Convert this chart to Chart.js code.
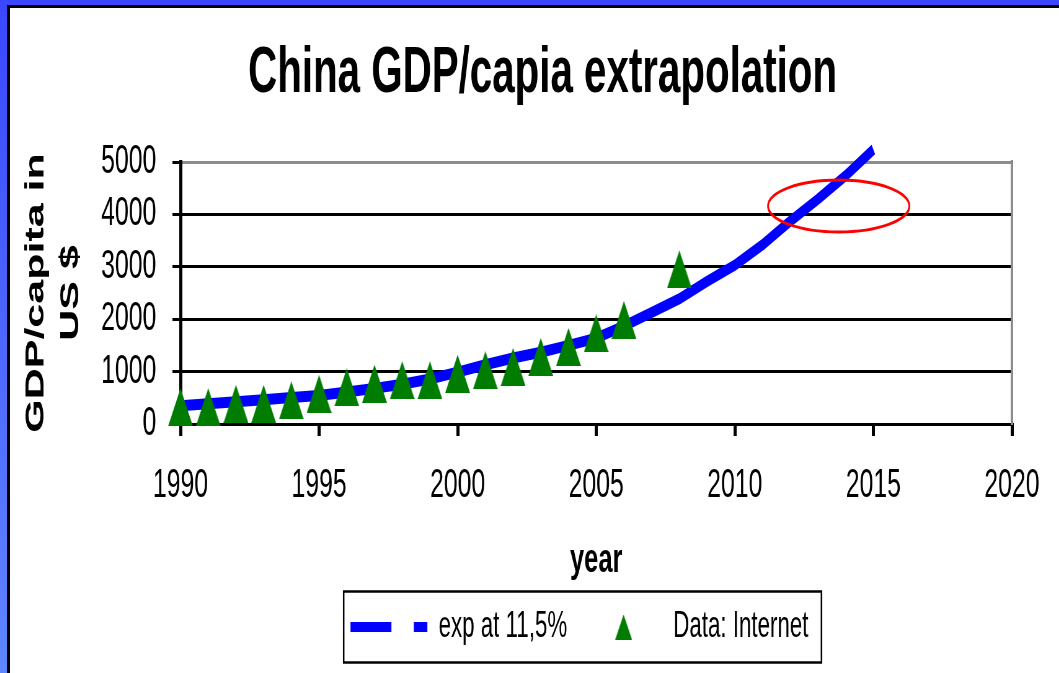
<!DOCTYPE html>
<html>
<head>
<meta charset="utf-8">
<script src="https://cdn.jsdelivr.net/npm/chart.js@4/dist/chart.umd.min.js"></script>
<style>
  html, body { margin: 0; padding: 0; }
  body {
    width: 1059px; height: 673px; overflow: hidden; position: relative;
    background: linear-gradient(to bottom, #3a47ff, #5f86ff);
  }
  #frame {
    position: absolute; left: 7px; top: 5px; width: 1120px; height: 700px;
    background: #fff; border-left: 3px solid #000; border-top: 3px solid #000;
    overflow: hidden;
  }
  /* the slide was squeezed sideways, so the chart is drawn wide and squeezed too */
  #gdp { position: absolute; left: 0; top: 0; transform: scaleX(0.62); transform-origin: 0 0; }
</style>
</head>
<body>
<div id="frame"><canvas id="gdp" width="1718" height="665"></canvas></div>
<script>
// exponential fit, one value per year
const expYears = [1990, 1991, 1992, 1993, 1994, 1995, 1996, 1997, 1998, 1999, 2000, 2001, 2002,
                  2003, 2004, 2005, 2006, 2007, 2008, 2009, 2010, 2011, 2012, 2013, 2014, 2015];
const expValues = [350, 385, 425, 465, 505, 545, 610, 680, 760, 860, 990, 1130, 1260,
                   1370, 1500, 1640, 1870, 2130, 2390, 2720, 3030, 3420, 3870, 4290, 4740, 5240];

// data points (triangles)
const dataYears = [1990, 1991, 1992, 1993, 1994, 1995, 1996, 1997, 1998, 1999, 2000, 2001, 2002,
                   2003, 2004, 2005, 2006, 2008];
const dataValues = [320, 320, 385, 385, 450, 575, 700, 770, 835, 835, 960, 1025, 1090,
                    1280, 1470, 1730, 1985, 2950];

const xTicks = [1990, 1995, 2000, 2005, 2010, 2015, 2020];
const yTicks = [0, 1000, 2000, 3000, 4000, 5000];

// red ring around 2013/2014
const ringCenter = {x: 2013.75, y: 4160};

const GREEN = '#007d00';
const BLUE = '#0000ff';

function triangle(w, h) {
    const c = document.createElement('canvas');
    c.width = w; c.height = h;
    const g = c.getContext('2d');
    g.fillStyle = GREEN;
    g.beginPath();
    g.moveTo(w / 2, 0);
    g.lineTo(w, h);
    g.lineTo(0, h);
    g.closePath();
    g.fill();
    return c;
}
const triPoint = triangle(40, 38);
const triLegend = triangle(27, 25);

Chart.defaults.font.family = '"Liberation Sans", Arial, sans-serif';
Chart.defaults.color = '#000';

// legend sits a little left of the plot centre in the original
const legendShift = {
    id: 'legendShift',
    afterLayout(chart) {
        chart.legend.left -= 27;
        chart.legend.right -= 27;
    }
};

const legendBox = {
    id: 'legendBox',
    afterDraw(chart) {
        const hb = chart.legend.legendHitBoxes;
        if (!hb || !hb.length) return;
        const last = hb[hb.length - 1];
        const left = hb[0].left - 11;
        const right = last.left + last.width + 21;
        const cy = hb[0].top + hb[0].height / 2;
        const ctx = chart.ctx;
        ctx.save();
        ctx.strokeStyle = '#000';
        ctx.lineWidth = 2.5;
        ctx.setLineDash([]);
        ctx.strokeRect(left, cy - 35.5, right - left, 71);
        ctx.restore();
    }
};

const ring = {
    id: 'ring',
    afterDatasetsDraw(chart) {
        const {ctx, scales: {x, y}} = chart;
        ctx.save();
        ctx.strokeStyle = '#ff0000';
        ctx.lineWidth = 3;
        ctx.beginPath();
        ctx.ellipse(x.getPixelForValue(ringCenter.x), y.getPixelForValue(ringCenter.y), 114, 26, 0, 0, Math.PI * 2);
        ctx.stroke();
        ctx.restore();
    }
};

new Chart(document.getElementById('gdp'), {
    type: 'line',
    data: {
        datasets: [{
            label: 'exp at 11,5%',
            data: expYears.map((yr, i) => ({x: yr, y: expValues[i]})),
            borderColor: BLUE,
            backgroundColor: BLUE,
            borderWidth: 11,
            pointRadius: 0,
            tension: 0,
            clip: false,
            order: 2
        }, {
            label: 'Data: Internet',
            data: dataYears.map((yr, i) => ({x: yr, y: dataValues[i]})),
            showLine: false,
            pointStyle: triPoint,
            pointRadius: 19,
            backgroundColor: GREEN,
            borderColor: GREEN,
            clip: false,
            order: 1
        }]
    },
    options: {
        responsive: false,
        animation: false,
        devicePixelRatio: 1,
        layout: {padding: {left: 0, right: 0, top: 0, bottom: 18}},
        plugins: {
            tooltip: {enabled: false},
            title: {
                display: true,
                text: 'China GDP/capia extrapolation',
                font: {size: 65, weight: 'bold', lineHeight: 1.2},
                color: '#000',
                padding: {top: 27, bottom: 49}
            },
            legend: {
                position: 'bottom',
                fullSize: false,
                labels: {
                    usePointStyle: true,
                    pointStyleWidth: 124,
                    padding: 29,
                    font: {size: 36},
                    color: '#000',
                    generateLabels: () => [{
                        text: 'exp at 11,5%', pointStyle: 'line', strokeStyle: BLUE, fillStyle: BLUE,
                        lineWidth: 10, lineDash: [66, 36], lineCap: 'butt', fontColor: '#000', datasetIndex: 0
                    }, {
                        text: 'Data: Internet', pointStyle: triLegend, strokeStyle: GREEN, fillStyle: GREEN,
                        lineWidth: 0, fontColor: '#000', datasetIndex: 1
                    }]
                }
            }
        },
        scales: {
            x: {
                type: 'linear',
                min: 1990,
                max: 2020,
                afterBuildTicks: (s) => { s.ticks = xTicks.map(v => ({value: v})); },
                afterFit: (s) => { s.height = 156; },
                grid: {drawOnChartArea: false, drawTicks: true, tickLength: 12, tickColor: '#000', lineWidth: 5},
                border: {display: true, color: '#000', width: 3},
                ticks: {padding: 26, font: {size: 40}, color: '#000', maxRotation: 0, autoSkip: false,
                        callback: (v) => String(v)},
                title: {display: true, text: 'year', font: {size: 41, weight: 'bold', lineHeight: 0.92},
                        color: '#000', padding: 0}
            },
            y: {
                min: 0,
                max: 5000,
                afterBuildTicks: (s) => { s.ticks = yTicks.map(v => ({value: v})); },
                afterFit: (s) => { s.width = 275; },
                grid: {
                    color: (c) => c.tick && c.tick.value === 5000 ? '#8c8c8c' : '#000',
                    lineWidth: 3,
                    tickLength: 13,
                    tickColor: '#000'
                },
                border: {display: true, color: '#000', width: 5},
                ticks: {padding: 26, font: {size: 40}, color: '#000', callback: (v) => String(v)},
                title: {display: true, text: ['GDP/capita in', 'US $'],
                        font: {size: 43, weight: 'bold', lineHeight: 1.3}, color: '#000', padding: {top: 14}}
            },
            yr: {
                position: 'right',
                min: 0,
                max: 5000,
                afterFit: (s) => { s.width = 102; },
                grid: {display: false, drawTicks: false},
                ticks: {display: false},
                border: {display: true, color: '#8c8c8c', width: 4}
            }
        }
    },
    plugins: [ring, legendShift, legendBox]
});
</script>
</body>
</html>
